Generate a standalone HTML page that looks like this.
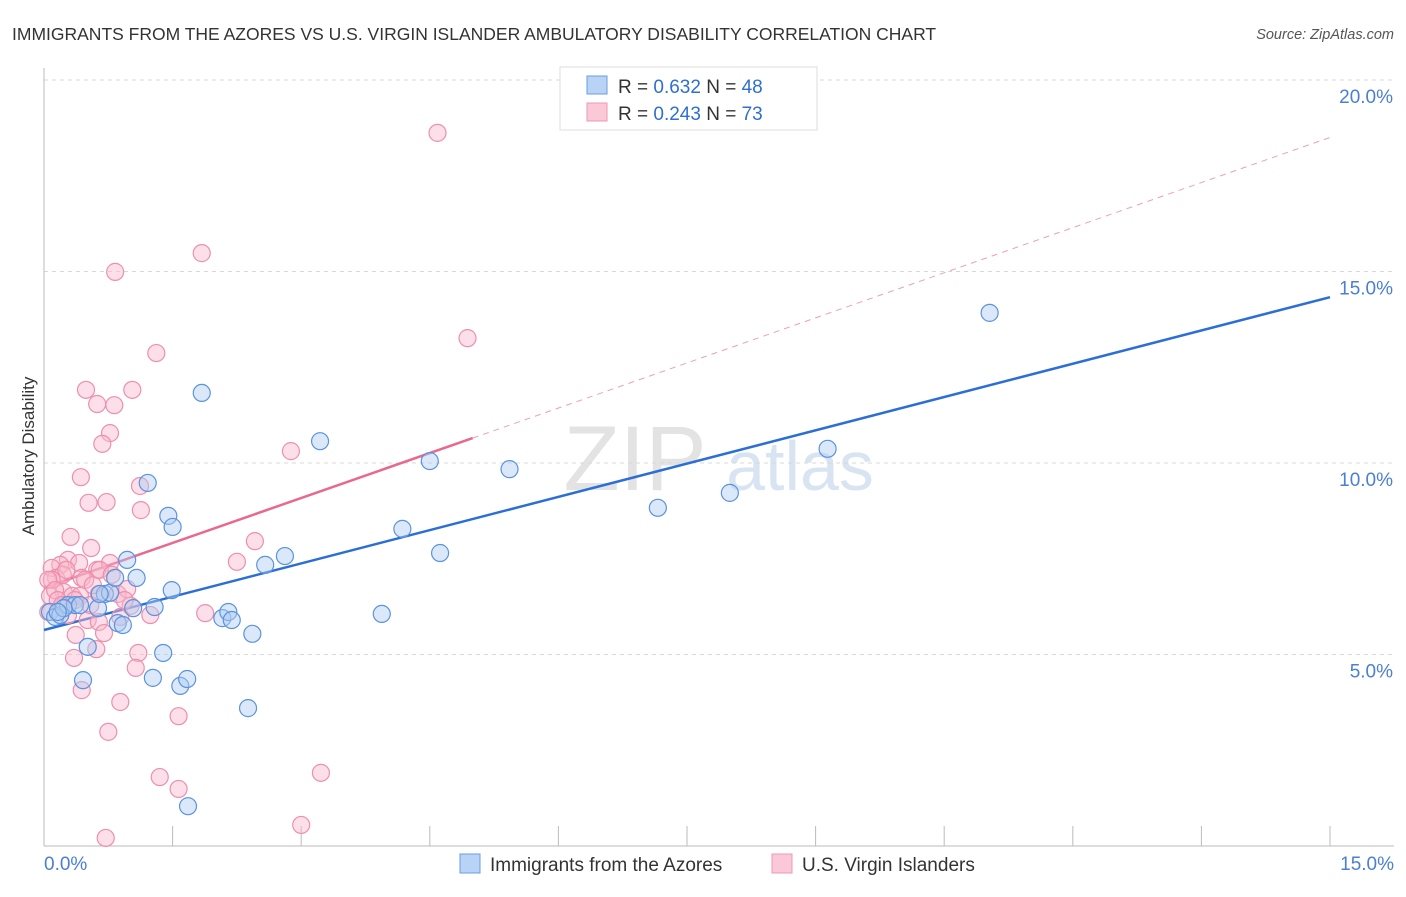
<!DOCTYPE html>
<html><head><meta charset="utf-8">
<style>
body{margin:0;background:#fff;font-family:"Liberation Sans",sans-serif;}
svg text{font-family:"Liberation Sans",sans-serif;}
</style></head>
<body>
<svg id="chart" width="1406" height="892" viewBox="0 0 1406 892" xmlns="http://www.w3.org/2000/svg">
<text x="12" y="40" font-size="17.5" fill="#333">IMMIGRANTS FROM THE AZORES VS U.S. VIRGIN ISLANDER AMBULATORY DISABILITY CORRELATION CHART</text>
<text x="1394" y="39" font-size="14.5" fill="#555" font-style="italic" text-anchor="end">Source: ZipAtlas.com</text>
<g>
<text x="635" y="490" font-size="92" fill="#ddd" font-family="Liberation Serif" text-anchor="middle" opacity="0.8">ZIP</text>
<text x="800" y="490" font-size="70" fill="#c9d9ee" text-anchor="middle" opacity="0.7">atlas</text>
</g>
<g id="grid"></g>
<g id="axes"></g>
<g id="lines"></g>
<g id="pts"></g>
<text transform="translate(34,456) rotate(-90)" font-size="17" fill="#333" text-anchor="middle">Ambulatory Disability</text>
<g>
<rect x="560" y="67" width="257" height="63" fill="#fff" stroke="#ddd"/>
<rect x="587" y="76" width="20" height="18" fill="#b8d3f5" stroke="#6a9de0"/>
<rect x="587" y="103" width="20" height="18" fill="#fbc8d7" stroke="#ee9ab3"/>
<text x="618" y="93" font-size="19" fill="#333">R = <tspan fill="#2f6fd0">0.632</tspan>   N = <tspan fill="#2f6fd0">48</tspan></text>
<text x="618" y="120" font-size="19" fill="#333">R = <tspan fill="#2f6fd0">0.243</tspan>   N = <tspan fill="#2f6fd0">73</tspan></text>
</g>
<g>
<rect x="460" y="854" width="20" height="19" fill="#b8d3f5" stroke="#6a9de0"/>
<text x="490" y="871" font-size="19" fill="#333">Immigrants from the Azores</text>
<rect x="772" y="854" width="20" height="19" fill="#fbc8d7" stroke="#ee9ab3"/>
<text x="802" y="871" font-size="19" fill="#333">U.S. Virgin Islanders</text>
</g>
</svg>
<script>
const blueX=[.07,.13,.19,.28,.36,.455,.51,.63,.71,.77,.83,.86,.92,.97,1.04,1.08,1.21,1.27,1.29,1.39,1.45,1.49,1.50,1.59,1.67,1.68,1.84,2.08,2.15,2.19,2.38,2.43,2.58,2.81,3.22,3.94,4.18,4.50,4.62,5.43,7.16,8.00,9.14,11.03,.23,.65,.42,.16];
const blueY=[6.11,5.98,6.03,6.29,6.29,4.33,5.20,6.21,6.58,6.61,7.00,5.82,5.77,7.47,6.21,7.00,9.48,4.39,6.24,5.04,8.62,6.68,8.33,4.18,4.36,1.04,11.83,5.95,6.11,5.90,3.60,5.54,7.34,7.57,10.57,6.06,8.28,10.05,7.65,9.84,8.83,9.22,10.37,13.92,6.21,6.58,6.29,6.11];
const pinkX=[4.59,1.84,.83,4.94,1.31,.49,1.03,.62,.82,.77,.68,2.88,.43,1.12,.52,.73,1.13,.31,2.46,.55,.28,.41,.62,.19,.09,.14,.22,.44,.77,2.25,.65,.23,.33,.42,.64,.86,.97,1.01,.09,.07,.05,.28,.51,.64,.89,1.88,.37,.70,.61,1.10,.35,1.07,.44,.89,1.57,.75,1.35,1.57,3.23,3.00,.72,.05,.13,.26,.48,.57,.79,.16,.21,.36,1.24,.94,.54];
const pinkY=[18.62,15.48,14.99,13.26,12.87,11.91,11.91,11.54,11.51,10.78,10.50,10.31,9.63,9.40,8.96,8.98,8.77,8.07,7.96,7.78,7.47,7.39,7.21,7.34,7.26,7.00,7.08,7.00,7.39,7.42,7.21,6.63,6.53,6.53,6.58,6.58,6.71,6.27,6.95,6.53,6.11,6.03,5.90,5.85,5.98,6.08,5.51,5.56,5.14,5.04,4.91,4.65,4.07,3.76,3.39,2.98,1.80,1.49,1.91,.55,.21,6.95,6.68,7.21,6.95,6.81,7.08,6.42,6.29,6.42,6.03,6.42,6.29];
const yTicks=[5,10,15,20];
const yTickLabels=["5.0%","10.0%","15.0%","20.0%"];
const blueTrend=[5.64,14.33];
const pinkTrend=[6.74,10.65,18.5];
const NS="http://www.w3.org/2000/svg";
const sx=v=>44+v/15*1286;
const sy=v=>846-v*38.3;
function mk(t,a,p){const e=document.createElementNS(NS,t);for(const k in a)e.setAttribute(k,a[k]);p.appendChild(e);return e;}
const grid=document.getElementById('grid'),axes=document.getElementById('axes'),lines=document.getElementById('lines'),pts=document.getElementById('pts');
yTicks.forEach((t,i)=>{
 const l=mk('line',{x1:44,x2:1394,y1:sy(t),y2:sy(t),stroke:'#d8d8d8','stroke-dasharray':'4,4'},grid);
 
 
 const tx=mk('text',{x:1393,y:sy(t)+23,'font-size':19,fill:'#4a7fd4','text-anchor':'end'},axes);
 tx.textContent=yTickLabels[i];
 
 
});
mk('line',{x1:44,x2:44,y1:68,y2:846,stroke:'#bbb'},axes);
mk('line',{x1:44,x2:1394,y1:846,y2:846,stroke:'#bbb'},axes);
for(let i=0;i<=10;i++){const t=mk('line',{x1:sx(i*1.5),x2:sx(i*1.5),y1:826,y2:846,stroke:'#bbb'},axes);
 
 }
const x0=mk('text',{x:44,y:870,'font-size':19,fill:'#4a7fd4'},axes);x0.textContent='0.0%';


const x1=mk('text',{x:1394,y:870,'font-size':19,fill:'#4a7fd4','text-anchor':'end'},axes);x1.textContent='15.0%';


function dot(x,y,f,s,n){const c=mk('circle',{cx:sx(x),cy:sy(y),r:8.5,fill:f,'fill-opacity':0.45,stroke:s,'stroke-width':1.2},pts);
 
 }
pinkX.forEach((x,i)=>dot(x,pinkY[i],'#f9b9cc','#ee8fae','point-virgin-islanders'));
blueX.forEach((x,i)=>dot(x,blueY[i],'#aecbf2','#5b93dd','point-azores'));
const bl=mk('line',{x1:sx(0),y1:sy(blueTrend[0]),x2:sx(15),y2:sy(blueTrend[1]),stroke:'#2b6fd6','stroke-width':2.5},lines);


const pl=mk('line',{x1:sx(0),y1:sy(pinkTrend[0]),x2:sx(5),y2:sy(pinkTrend[1]),stroke:'#e86890','stroke-width':2.5},lines);


const pd=mk('line',{x1:sx(5),y1:sy(pinkTrend[1]),x2:sx(15),y2:sy(pinkTrend[2]),stroke:'#eba0b8','stroke-width':1,'stroke-dasharray':'6,5'},lines);


</script>
</body></html>
